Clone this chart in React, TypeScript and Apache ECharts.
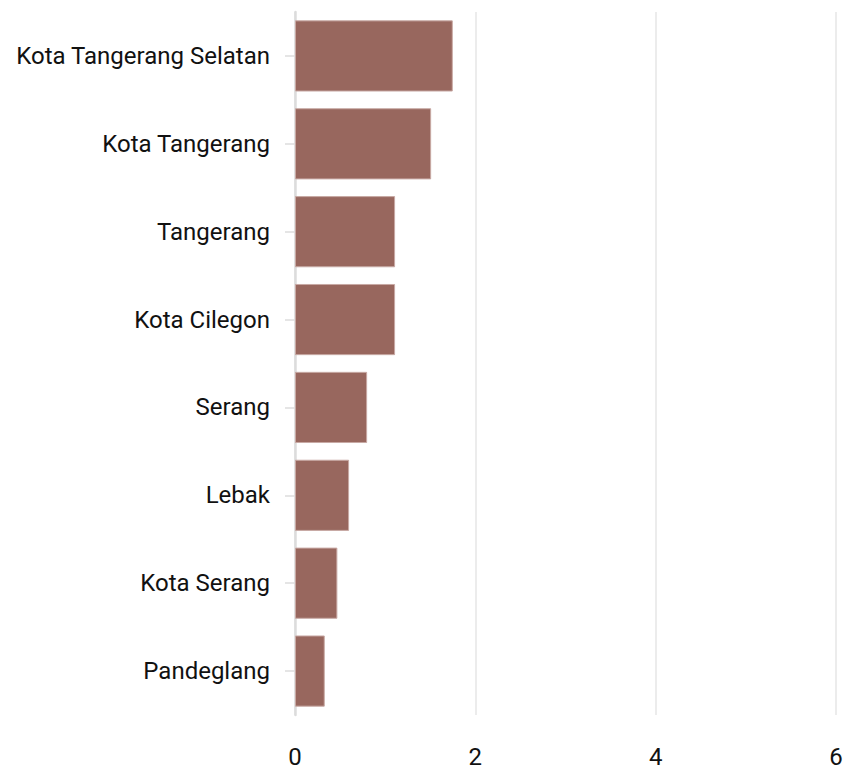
import React, { useEffect, useRef } from "react";
import * as echarts from "echarts";

const categories = [
  "Kota Tangerang Selatan",
  "Kota Tangerang",
  "Tangerang",
  "Kota Cilegon",
  "Serang",
  "Lebak",
  "Kota Serang",
  "Pandeglang",
];
const values = [1.75, 1.51, 1.11, 1.11, 0.8, 0.6, 0.47, 0.33];
const xMin = 0;
const xMax = 6;
const xInterval = 2;

export default function App() {
  const ref = useRef<HTMLDivElement>(null);
  useEffect(() => {
    if (!ref.current) return;
    const chart = echarts.init(ref.current, null, { renderer: "svg" });
    chart.setOption({
      animation: false,
      backgroundColor: "#ffffff",
      grid: { left: 295, right: 11, top: 12, bottom: 56, containLabel: false },
      xAxis: {
        type: "value",
        min: xMin,
        max: xMax,
        interval: xInterval,
        axisLine: { show: false },
        axisTick: { show: false },
        splitLine: { show: true, lineStyle: { color: "#e6e6e6", width: 1.5 } },
        axisLabel: {
          fontFamily: "Roboto",
          fontSize: 24,
          color: "#111111",
          margin: 30,
        },
      },
      yAxis: {
        type: "category",
        data: categories,
        inverse: true,
        axisLine: { show: true, lineStyle: { color: "#dcdcdc", width: 2.5 } },
        axisTick: {
          show: true,
          alignWithLabel: true,
          length: 10,
          lineStyle: { color: "#dcdcdc", width: 1.5 },
        },
        axisLabel: {
          fontFamily: "Roboto",
          fontSize: 24,
          color: "#111111",
          margin: 25,
        },
      },
      series: [
        {
          type: "bar",
          data: values,
          barCategoryGap: "19%",
          itemStyle: {
            color: "#98675e",
            borderColor: "#c8a9a4",
            borderWidth: 1,
          },
        },
      ],
    });
    return () => chart.dispose();
  }, []);
  return (
    <div
      ref={ref}
      style={{ position: "fixed", left: 0, top: 0, width: 847, height: 771 }}
    />
  );
}
